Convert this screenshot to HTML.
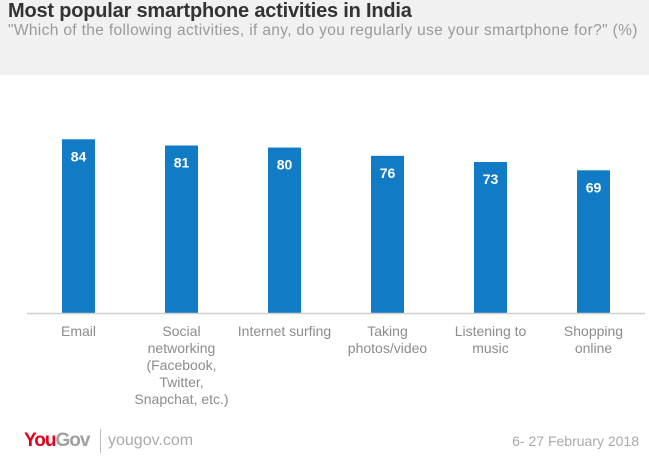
<!DOCTYPE html>
<html><head><meta charset="utf-8"><style>
body{margin:0;width:649px;height:463px;background:#fff;font-family:"Liberation Sans",sans-serif;overflow:hidden;position:relative}
#hdr{position:absolute;left:0;top:0;width:649px;height:75px;background:#f1f1f1}
#title{position:absolute;left:8px;top:0;font-size:20px;font-weight:bold;color:#333;letter-spacing:-0.2px}
#sub{position:absolute;left:8px;top:22px;font-size:15.5px;color:#9a9a9a;letter-spacing:0.35px}
#foot-logo{position:absolute;left:24px;top:430px;font-size:19px;font-weight:bold;letter-spacing:-1px}
#foot-url{position:absolute;left:108px;top:432px;font-size:16px;color:#aaa}
#foot-sep{position:absolute;left:100px;top:429px;width:1px;height:24px;background:#bbb}
#foot-date{position:absolute;right:10px;top:433px;font-size:14px;color:#aaa}
</style></head><body>
<div id="hdr"></div>
<div id="title">Most popular smartphone activities in India</div>
<div id="sub">"Which of the following activities, if any, do you regularly use your smartphone for?" (%)</div>
<svg id="chart" width="649" height="463" style="position:absolute;left:0;top:0"></svg>
<div id="foot-logo"><span style="color:#e3001b">You</span><span style="color:#a0a0a0">Gov</span></div>
<div id="foot-sep"></div>
<div id="foot-url">yougov.com</div>
<div id="foot-date">6- 27 February 2018</div>
<script>
const categories=[["Email"],["Social","networking","(Facebook,","Twitter,","Snapchat, etc.)"],["Internet surfing"],["Taking","photos/video"],["Listening to","music"],["Shopping","online"]];
const values=[84,81,80,76,73,69];
const labels=["84","81","80","76","73","69"];
const svg=document.getElementById('chart');
const NS='http://www.w3.org/2000/svg';
const x0=27,x1=645,base=313,ppu=2.068,bw=33;
const step=(x1-x0)/categories.length;
function xc(i){return x0+step*(i+0.5);}
function y(v){return base-v*ppu;}
values.forEach((v,i)=>{
 const r=document.createElementNS(NS,'rect');
 r.setAttribute('x',xc(i)-bw/2);r.setAttribute('y',y(v));
 r.setAttribute('width',bw);r.setAttribute('height',base-y(v));
 r.setAttribute('fill','#127bc6');
 
 
 svg.appendChild(r);
 const t=document.createElementNS(NS,'text');
 t.setAttribute('x',xc(i));t.setAttribute('y',y(v)+22);
 t.setAttribute('text-anchor','middle');t.setAttribute('fill','#fff');
 t.setAttribute('font-size','14');t.setAttribute('font-weight','bold');
 t.setAttribute('font-family','Liberation Sans, sans-serif');
 t.textContent=labels[i];
 
 
 svg.appendChild(t);
 categories[i].forEach((ln,j)=>{
  const c=document.createElementNS(NS,'text');
  c.setAttribute('x',xc(i));c.setAttribute('y',336+j*17);
  c.setAttribute('text-anchor','middle');c.setAttribute('fill','#8c8c8c');
  c.setAttribute('font-size','14');c.setAttribute('font-family','Liberation Sans, sans-serif');
  c.textContent=ln;
  
  
  svg.appendChild(c);
 });
});
const ax=document.createElementNS(NS,'line');
ax.setAttribute('x1',x0);ax.setAttribute('x2',x1);ax.setAttribute('y1',base+0.5);ax.setAttribute('y2',base+0.5);
ax.setAttribute('stroke','#d0d0d0');ax.setAttribute('stroke-width','1.5');


svg.appendChild(ax);
</script>
</body></html>
